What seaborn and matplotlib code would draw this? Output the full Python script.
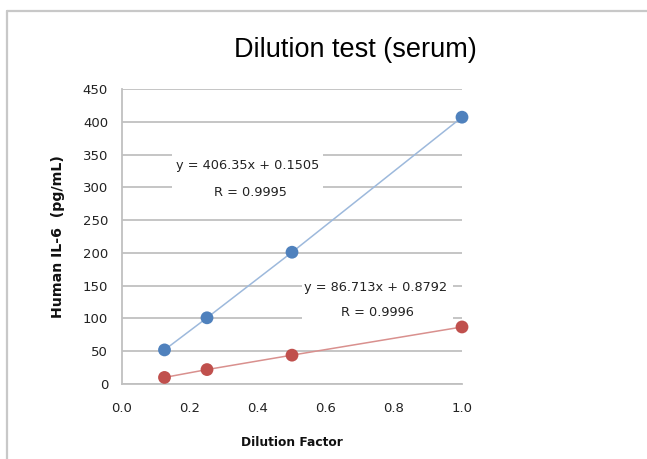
import matplotlib
matplotlib.use("Agg")
import matplotlib.pyplot as plt
from matplotlib.lines import Line2D
from matplotlib.patches import Rectangle
import seaborn as sns
import pandas as pd

dilution = [0.125, 0.25, 0.5, 1.0]
serum_a = [52, 101, 201, 407]
serum_b = [10, 22, 44, 87]
eq_a = ["y = 406.35x + 0.1505", "R = 0.9995"]
eq_b = ["y = 86.713x + 0.8792", "R = 0.9996"]
xticks = [0.0, 0.2, 0.4, 0.6, 0.8, 1.0]
yticks = [0, 50, 100, 150, 200, 250, 300, 350, 400, 450]

sns.set_style("white")
plt.rcParams['font.family'] = ['DejaVu Sans']

df = pd.DataFrame({"x": dilution * 2, "y": serum_a + serum_b,
                   "s": ["a"] * 4 + ["b"] * 4})

W, H = 647, 459
fig = plt.figure(figsize=(W / 100, H / 100), dpi=100)
ax = fig.add_axes([122 / W, 1 - 384 / H, (462 - 122) / W, (384 - 89) / H])

blue, red = "#4F81BD", "#C0504D"
sns.lineplot(data=df[df.s == "a"], x="x", y="y", ax=ax, color="#9DB9DC", lw=1.1, zorder=2)
sns.lineplot(data=df[df.s == "b"], x="x", y="y", ax=ax, color="#D9908E", lw=1.1, zorder=2)
sns.scatterplot(data=df, x="x", y="y", hue="s", palette={"a": blue, "b": red},
                s=85, edgecolor="none", ax=ax, legend=False, zorder=3)
for coll in ax.collections:
    coll.set_clip_on(False)

ax.set_xlim(0, 1.0)
ax.set_ylim(0, 450)
ax.set_xticks(xticks)
ax.set_xticklabels([f"{v:.1f}" for v in xticks])
ax.set_yticks(yticks)
ax.set_yticklabels([str(v) for v in yticks])
ax.yaxis.grid(True, color="#c0c0c0", lw=1.3, zorder=0)
ax.xaxis.grid(False)
ax.set_axisbelow(True)
for side in ["top", "right"]:
    ax.spines[side].set_visible(False)
for side in ["left", "bottom"]:
    ax.spines[side].set_color("#c0c0c0")
    ax.spines[side].set_linewidth(1.3)
ax.tick_params(axis="both", length=0, labelsize=9.5, colors="#222222")
ax.tick_params(axis="x", pad=13)
ax.tick_params(axis="y", pad=10)

ax.set_xlabel("Dilution Factor", fontsize=8.8, fontweight="bold", labelpad=15, color="#111111")
ax.set_ylabel("Human IL-6  (pg/mL)", fontsize=10.2, fontweight="bold", labelpad=13, color="#111111")

fig.text(355 / W, 1 - 50 / H, "Dilution test (serum)", ha="center", va="center",
         fontsize=19.5, family="Liberation Sans", color="#000000")

# white label boxes covering gridlines
fig.add_artist(Rectangle((172 / W, 1 - 200 / H), (323 - 172) / W, (200 - 146) / H,
                         facecolor="white", edgecolor="none", transform=fig.transFigure, zorder=5))
fig.add_artist(Rectangle((302 / W, 1 - 326 / H), (453 - 302) / W, (326 - 278) / H,
                         facecolor="white", edgecolor="none", transform=fig.transFigure, zorder=5))

tkw = dict(ha="center", va="center", fontsize=9.3, color="#222222", zorder=6)
fig.text(248 / W, 1 - 165 / H, eq_a[0], **tkw)
fig.text(250 / W, 1 - 192 / H, eq_a[1], **tkw)
fig.text(376 / W, 1 - 288 / H, eq_b[0], **tkw)
fig.text(377 / W, 1 - 313 / H, eq_b[1], **tkw)

# outer frame lines
fig.add_artist(Line2D([7 / W, 1], [1 - 11 / H, 1 - 11 / H], color="#c8c8c8", lw=1.6,
                      transform=fig.transFigure))
fig.add_artist(Line2D([7 / W, 7 / W], [0, 1 - 11 / H], color="#c8c8c8", lw=1.6,
                      transform=fig.transFigure))

fig.savefig("out.png", dpi=100)
